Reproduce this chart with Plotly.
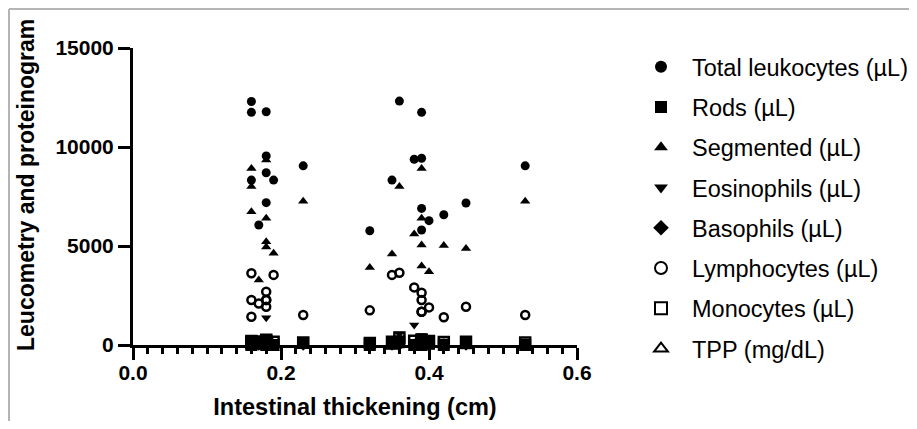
import plotly.graph_objects as go

# Intestinal thickening (cm) for each animal
thickness = [0.16, 0.16, 0.16, 0.17, 0.18, 0.18, 0.18, 0.18, 0.19, 0.23, 0.32,
             0.35, 0.36, 0.38, 0.39, 0.39, 0.39, 0.39, 0.40, 0.42, 0.45, 0.53]

total_leukocytes = [12300, 11750, 8330, 6060, 11780, 9550, 8700, 7190, 8330, 9050, 5770,
                    8330, 12320, 9380, 11750, 9430, 6900, 5810, 6280, 6580, 7170, 9050]
rods = [60, 120, 0, 90, 150, 0, 110, 70, 0, 100, 0,
        60, 180, 0, 90, 120, 0, 200, 60, 0, 90, 0]
segmented = [8920, 8000, 6730, 3280, 9340, 6400, 5220, 4950, 4630, 7260, 3920,
             4600, 8000, 5610, 8920, 6400, 5050, 3990, 3700, 5020, 4880, 7260]
eosinophils = [200, 150, 180, 300, 220, 280, 1380, 160, 120, 100, 180,
               250, 560, 1010, 480, 260, 150, 420, 300, 200, 160, 100]
basophils = [0, 0, 0, 0, 0, 0, 0, 0, 0, 0, 0,
             0, 0, 0, 0, 0, 0, 0, 0, 0, 0, 0]
lymphocytes = [2270, 3620, 1430, 2100, 2270, 2690, 1930, 2270, 3540, 1515, 1750,
               3540, 3650, 2910, 2640, 2270, 1680, 1680, 1900, 1400, 1930, 1515]
monocytes = [150, 200, 100, 180, 120, 260, 220, 140, 160, 120, 100,
             170, 380, 210, 280, 190, 140, 240, 200, 150, 170, 120]
tpp = [6.8, 7.2, 6.4, 7.0, 6.6, 7.4, 6.9, 7.1, 6.5, 7.3, 6.7,
       7.0, 6.8, 7.2, 6.6, 7.5, 6.9, 7.0, 6.4, 7.1, 6.8, 7.3]

series_names = ["Total leukocytes (µL)", "Rods (µL)", "Segmented (µL)", "Eosinophils (µL)",
                "Basophils (µL)", "Lymphocytes (µL)", "Monocytes (µL)", "TPP (mg/dL)"]
series_values = [total_leukocytes, rods, segmented, eosinophils,
                 basophils, lymphocytes, monocytes, tpp]
symbols = ["circle", "square", "triangle-up", "triangle-down",
           "diamond", "circle-open", "square-open", "triangle-up-open"]
sizes = [9, 12, 9, 9, 9, 8, 10, 9]

x_ticks = [0.0, 0.2, 0.4, 0.6]
x_labels = ["0.0", "0.2", "0.4", "0.6"]
y_ticks = [0, 5000, 10000, 15000]
y_labels = ["0", "5000", "10000", "15000"]

fig = go.Figure()
for name, vals, sym, sz in zip(series_names, series_values, symbols, sizes):
    fig.add_trace(go.Scatter(
        x=thickness, y=vals, mode="markers", name=name, legendgroup=name,
        cliponaxis=False,
        marker=dict(symbol=sym, size=sz, color="black",
                    line=dict(color="black", width=2.5 if "open" in sym else 0)),
    ))

# page body adds an 8px offset; figure coordinates below are page coords - 8
W, H = 909, 413
L, T = 125, 40
PR, PB = 569, 337          # plot right / bottom in figure px
R, B = W - PR, H - PB
pw, ph = PR - L, PB - T


def px(xp):
    return (xp - L) / pw


def py(yp):
    return (PB - yp) / ph


FAM = "Liberation Sans, Arial, sans-serif"
tick_font = dict(family=FAM, size=21, color="black", weight="bold")
title_font = dict(family=FAM, size=23.5, color="black", weight="bold")

fig.update_layout(
    width=W, height=H,
    margin=dict(l=L, r=R, t=T, b=B, pad=0, autoexpand=False),
    paper_bgcolor="white", plot_bgcolor="white",
    font=dict(family=FAM, color="black"),
    xaxis=dict(
        range=[0, 0.6], tickvals=x_ticks, ticktext=x_labels, automargin=False,
        showgrid=False, zeroline=False, showline=True, linewidth=3, linecolor="black",
        ticks="outside", ticklen=12, tickwidth=3, tickcolor="black",
        tickfont=tick_font, ticklabelstandoff=-5,
        minor=dict(dtick=0.02, tick0=0, ticks="outside", ticklen=6, tickwidth=2.5,
                   tickcolor="black", showgrid=False),
        title=dict(text="Intestinal thickening (cm)", font=title_font, standoff=16),
    ),
    yaxis=dict(
        range=[0, 15000], tickvals=y_ticks, ticktext=y_labels, automargin=False,
        showgrid=False, zeroline=False, showline=True, linewidth=3, linecolor="black",
        ticks="outside", ticklen=12, tickwidth=3, tickcolor="black",
        tickfont=tick_font,
    ),
    legend=dict(
        x=px(622), xanchor="left", y=py(37), yanchor="top",
        font=dict(family=FAM, size=23.5, color="black"),
        itemsizing="constant", itemwidth=52, bgcolor="rgba(0,0,0,0)",
        traceorder="grouped", tracegroupgap=6.7, maxheight=400,
    ),
    showlegend=True,
)

# y axis title placed as in the original (slightly above the plot's centre)
fig.add_annotation(
    text="Leucometry and proteinogram", textangle=-90,
    xref="paper", yref="paper", x=px(18), y=py(177),
    xanchor="center", yanchor="middle", showarrow=False,
    font=dict(family=FAM, size=23, color="black", weight="bold"),
)

# light grey frame of the original figure (top and left edges)
fig.add_shape(type="line", xref="paper", yref="paper", x0=px(1), x1=px(W), y0=py(1), y1=py(1),
              line=dict(color="#b4b4b4", width=2))
fig.add_shape(type="line", xref="paper", yref="paper", x0=px(1), x1=px(1), y0=py(1), y1=py(H),
              line=dict(color="#b4b4b4", width=2))

fig.write_html("out.html")
